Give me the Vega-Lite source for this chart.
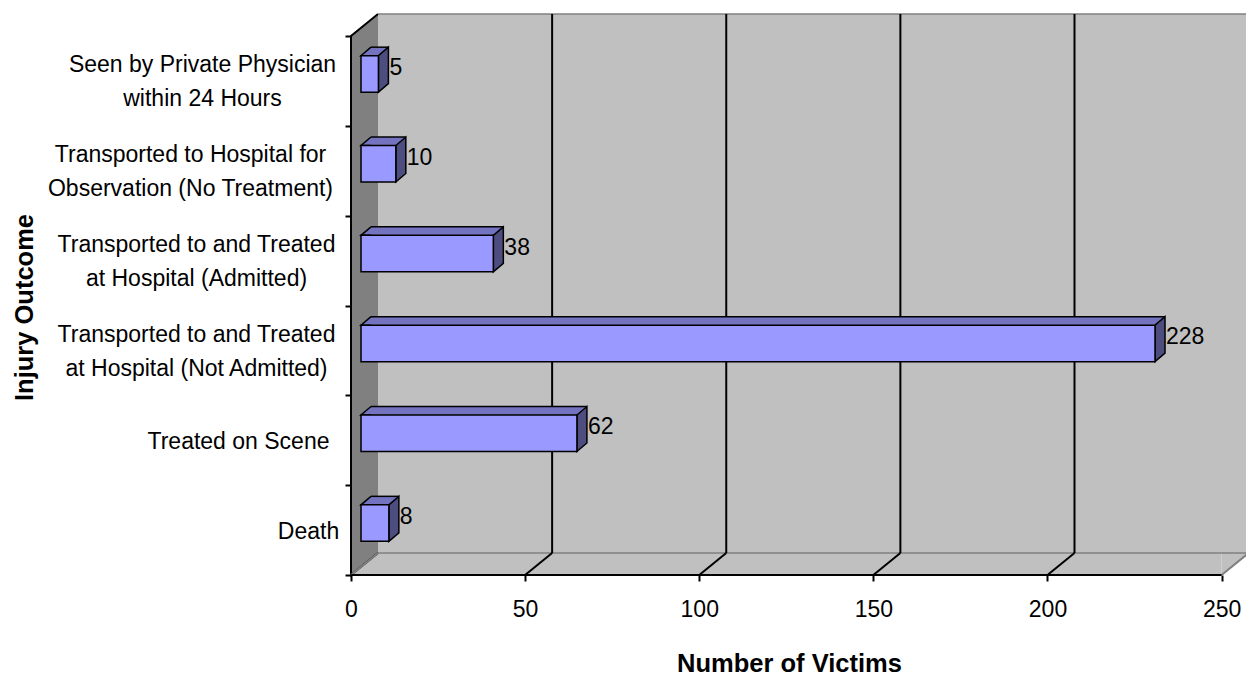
{
  "$schema": "https://vega.github.io/schema/vega-lite/v6.json",
  "width": 895,
  "height": 561,
  "autosize": {"type": "none"},
  "padding": {"left": 351, "top": 14, "right": 0, "bottom": 102},
  "background": "white",
  "config": {"view": {"stroke": null}, "font": "Liberation Sans"},
  "datasets": {
    "outcomes": [
      {"outcome": "Death", "victims": 8},
      {"outcome": "Treated on Scene", "victims": 62},
      {"outcome": "Transported to and Treated at Hospital (Not Admitted)", "victims": 228},
      {"outcome": "Transported to and Treated at Hospital (Admitted)", "victims": 38},
      {"outcome": "Transported to Hospital for Observation (No Treatment)", "victims": 10},
      {"outcome": "Seen by Private Physician within 24 Hours", "victims": 5}
    ],
    "ticks": [
      {"tick": 0}, {"tick": 50}, {"tick": 100}, {"tick": 150}, {"tick": 200}, {"tick": 250}
    ]
  },
  "layer": [
    {
      "layer": [
        {
          "data": {"values": [{}]},
          "mark": {"type": "rect", "fill": "#C0C0C0", "xOffset": 27, "x2Offset": 27, "yOffset": -22, "y2Offset": -22},
          "encoding": {
            "x": {
              "datum": 0, "type": "quantitative",
              "scale": {"domain": [0, 257], "nice": false, "zero": true},
              "axis": {
                "values": [0, 50, 100, 150, 200, 250],
                "domain": false, "grid": false,
                "tickSize": 6, "tickWidth": 2, "tickColor": "black",
                "labelFont": "Liberation Sans", "labelFontSize": 23, "labelColor": "black", "labelPadding": 17,
                "labelFlush": false, "labelOverlap": false,
                "title": "Number of Victims", "titleFont": "Liberation Sans", "titleFontSize": 25.5, "titleFontWeight": "bold", "titleColor": "black",
                "titleX": 438, "titleY": 76, "titleBaseline": "top", "titleAlign": "center"
              }
            },
            "x2": {"datum": 250},
            "y": {"datum": 0, "type": "quantitative", "scale": {"domain": [0, 6.2449], "nice": false, "zero": false}, "axis": null},
            "y2": {"datum": 6}
          }
        },
        {
          "data": {"values": [{}]},
          "mark": {"type": "rect", "fill": "#C0C0C0", "y2Offset": -22},
          "encoding": {
            "x": {"datum": 0, "type": "quantitative"},
            "x2": {"datum": 250},
            "y": {"datum": 0, "type": "quantitative", "axis": null},
            "y2": {"datum": 0}
          }
        },
        {
          "data": {"values": [{}]},
          "mark": {"type": "point", "shape": "M0,0 L0,-22 L27,-22 Z", "size": 4, "filled": true, "fill": "#C0C0C0", "strokeWidth": 0, "opacity": 1},
          "encoding": {
            "x": {"datum": 250, "type": "quantitative"},
            "y": {"datum": 0, "type": "quantitative", "axis": null}
          }
        },
        {
          "data": {"values": [{}]},
          "mark": {"type": "point", "shape": "M27,-561 L0,-539 L0,0 L27,-22", "size": 4, "filled": true, "fill": "#808080", "stroke": "black", "strokeWidth": 2, "opacity": 1},
          "encoding": {
            "x": {"datum": 0, "type": "quantitative"},
            "y": {"datum": 0, "type": "quantitative", "axis": null}
          }
        },
        {
          "data": {"values": [{}]},
          "mark": {"type": "rule", "stroke": "#808080", "strokeWidth": 1.5, "xOffset": 27, "x2Offset": 27, "yOffset": -22},
          "encoding": {
            "x": {"datum": 0, "type": "quantitative"},
            "x2": {"datum": 250},
            "y": {"datum": 6, "type": "quantitative", "axis": null}
          }
        },
        {
          "data": {"values": [{}]},
          "mark": {"type": "rule", "stroke": "#808080", "strokeWidth": 1.5, "xOffset": 27, "x2Offset": 27, "yOffset": -22},
          "encoding": {
            "x": {"datum": 0, "type": "quantitative"},
            "x2": {"datum": 250},
            "y": {"datum": 0, "type": "quantitative", "axis": null}
          }
        },
        {
          "data": {"name": "ticks"},
          "transform": [{"filter": "datum.tick > 0 && datum.tick < 250"}],
          "mark": {"type": "rule", "stroke": "black", "strokeWidth": 2, "xOffset": 27, "yOffset": -22, "y2Offset": -22},
          "encoding": {
            "x": {"field": "tick", "type": "quantitative", "title": "Number of Victims"},
            "y": {"datum": 0, "type": "quantitative", "axis": null},
            "y2": {"datum": 6}
          }
        },
        {
          "data": {"name": "ticks"},
          "mark": {"type": "rule", "strokeWidth": 2, "x2Offset": 27, "y2Offset": -22},
          "encoding": {
            "x": {"field": "tick", "type": "quantitative", "title": "Number of Victims"},
            "x2": {"field": "tick"},
            "y": {"datum": 0, "type": "quantitative", "axis": null},
            "y2": {"datum": 0},
            "color": {"condition": {"test": "datum.tick == 0 || datum.tick == 250", "value": "#808080"}, "value": "black"}
          }
        },
        {
          "data": {"values": [{}]},
          "mark": {"type": "rule", "stroke": "black", "strokeWidth": 2},
          "encoding": {
            "x": {"datum": 0, "type": "quantitative"},
            "x2": {"datum": 250},
            "y": {"datum": 0, "type": "quantitative", "axis": null}
          }
        }
      ]
    },
    {
      "data": {"name": "outcomes"},
      "layer": [
        {
          "mark": {"type": "bar", "fill": "#7373BF", "strokeWidth": 0, "height": 8.5, "xOffset": 20, "x2Offset": 20, "yOffset": -29.5},
          "encoding": {
            "x": {"field": "victims", "type": "quantitative", "title": "Number of Victims"},
            "x2": {"datum": 0},
            "y": {"field": "outcome", "type": "nominal", "sort": ["Seen by Private Physician within 24 Hours", "Transported to Hospital for Observation (No Treatment)", "Transported to and Treated at Hospital (Admitted)", "Transported to and Treated at Hospital (Not Admitted)", "Treated on Scene", "Death"]}
          }
        },
        {
          "mark": {"type": "point", "shape": "M10,0 L0,0 L10,-8.5", "size": 4, "filled": true, "fill": "#7373BF", "stroke": "black", "strokeWidth": 1.5, "opacity": 1, "xOffset": 10, "yOffset": -25.25},
          "encoding": {
            "x": {"datum": 0, "type": "quantitative"},
            "y": {"field": "outcome", "type": "nominal", "sort": ["Seen by Private Physician within 24 Hours", "Transported to Hospital for Observation (No Treatment)", "Transported to and Treated at Hospital (Admitted)", "Transported to and Treated at Hospital (Not Admitted)", "Treated on Scene", "Death"]}
          }
        },
        {
          "mark": {"type": "rule", "stroke": "black", "strokeWidth": 1.5, "xOffset": 20, "x2Offset": 20, "yOffset": -33.75},
          "encoding": {
            "x": {"field": "victims", "type": "quantitative", "title": "Number of Victims"},
            "x2": {"datum": 0},
            "y": {"field": "outcome", "type": "nominal", "sort": ["Seen by Private Physician within 24 Hours", "Transported to Hospital for Observation (No Treatment)", "Transported to and Treated at Hospital (Admitted)", "Transported to and Treated at Hospital (Not Admitted)", "Treated on Scene", "Death"]}
          }
        },
        {
          "mark": {"type": "point", "shape": "M0,18.25 L0,-18.25 L10,-26.75 L10,9.75 Z", "size": 4, "filled": true, "fill": "#4D4D80", "stroke": "black", "strokeWidth": 1.5, "opacity": 1, "xOffset": 10, "yOffset": -7},
          "encoding": {
            "x": {"field": "victims", "type": "quantitative", "title": "Number of Victims"},
            "y": {"field": "outcome", "type": "nominal", "sort": ["Seen by Private Physician within 24 Hours", "Transported to Hospital for Observation (No Treatment)", "Transported to and Treated at Hospital (Admitted)", "Transported to and Treated at Hospital (Not Admitted)", "Treated on Scene", "Death"]}
          }
        },
        {
          "mark": {"type": "bar", "fill": "#9999FF", "stroke": "black", "strokeWidth": 1.5, "height": 36.5, "xOffset": 10, "x2Offset": 10, "yOffset": -7},
          "encoding": {
            "x": {"field": "victims", "type": "quantitative", "title": "Number of Victims"},
            "x2": {"datum": 0},
            "y": {
              "field": "outcome", "type": "nominal",
              "sort": ["Seen by Private Physician within 24 Hours", "Transported to Hospital for Observation (No Treatment)", "Transported to and Treated at Hospital (Admitted)", "Transported to and Treated at Hospital (Not Admitted)", "Treated on Scene", "Death"],
              "scale": {"paddingInner": 0, "paddingOuter": 0.12245, "align": 1},
              "axis": {
                "orient": "left",
                "domain": false, "grid": false,
                "tickBand": "extent", "tickSize": 6, "tickWidth": 2, "tickColor": "black",
                "labelFont": "Liberation Sans", "labelFontSize": 23, "labelColor": "black",
                "labelAlign": "center", "labelBaseline": "middle", "labelLineHeight": 34,
                "labelLimit": 0, "labelOverlap": false, "labelBound": false,
                "labelPadding": {
                  "condition": [
                    {"test": "datum.value == 'Seen by Private Physician within 24 Hours'", "value": 143},
                    {"test": "datum.value == 'Transported to Hospital for Observation (No Treatment)'", "value": 155},
                    {"test": "datum.value == 'Treated on Scene'", "value": 107},
                    {"test": "datum.value == 'Death'", "value": 37}
                  ],
                  "value": 149
                },
                "labelOffset": {
                  "condition": {"test": "datum.value == 'Treated on Scene' || datum.value == 'Death'", "value": 1},
                  "value": -16
                },
                "labelExpr": "datum.value == 'Seen by Private Physician within 24 Hours' ? ['Seen by Private Physician', 'within 24 Hours'] : datum.value == 'Transported to Hospital for Observation (No Treatment)' ? ['Transported to Hospital for', 'Observation (No Treatment)'] : datum.value == 'Transported to and Treated at Hospital (Admitted)' ? ['Transported to and Treated', 'at Hospital (Admitted)'] : datum.value == 'Transported to and Treated at Hospital (Not Admitted)' ? ['Transported to and Treated', 'at Hospital (Not Admitted)'] : datum.label",
                "title": "Injury Outcome", "titleFont": "Liberation Sans", "titleFontSize": 25.5, "titleFontWeight": "bold", "titleColor": "black",
                "titleAngle": 270, "titleX": -327, "titleY": 293, "titleBaseline": "middle", "titleAlign": "center"
              }
            }
          }
        },
        {
          "mark": {"type": "text", "align": "left", "baseline": "middle", "fontSize": 23, "font": "Liberation Sans", "color": "black", "xOffset": 21, "yOffset": -13},
          "encoding": {
            "x": {"field": "victims", "type": "quantitative", "title": "Number of Victims"},
            "y": {"field": "outcome", "type": "nominal", "sort": ["Seen by Private Physician within 24 Hours", "Transported to Hospital for Observation (No Treatment)", "Transported to and Treated at Hospital (Admitted)", "Transported to and Treated at Hospital (Not Admitted)", "Treated on Scene", "Death"]},
            "text": {"field": "victims", "type": "quantitative"}
          }
        }
      ]
    }
  ],
  "resolve": {"scale": {"y": "independent"}}
}
